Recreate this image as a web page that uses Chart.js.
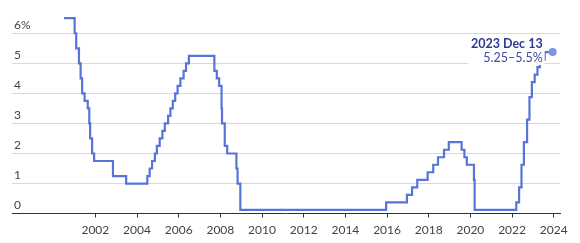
<!DOCTYPE html>
<html>
<head>
<meta charset="utf-8">
<script src="https://cdn.jsdelivr.net/npm/chart.js@4"></script>
<style>
  html, body { margin: 0; padding: 0; background: #fff; }
  #wrap { width: 580px; height: 243px; }
</style>
</head>
<body>
<div id="wrap"><canvas id="rateChart" width="580" height="243"></canvas></div>
<script>
// Fed funds target (midpoint of range after Dec 2008), by decision date
const dates = [
  '2000-07-01', '2001-01-03', '2001-01-31', '2001-03-20', '2001-04-18', '2001-05-15',
  '2001-06-27', '2001-08-21', '2001-09-17', '2001-10-02', '2001-11-06', '2001-12-11',
  '2002-11-06', '2003-06-25', '2004-06-30', '2004-08-10', '2004-09-21', '2004-11-10',
  '2004-12-14', '2005-02-02', '2005-03-22', '2005-05-03', '2005-06-30', '2005-08-09',
  '2005-09-20', '2005-11-01', '2005-12-13', '2006-01-31', '2006-03-28', '2006-05-10',
  '2006-06-29', '2007-09-18', '2007-10-31', '2007-12-11', '2008-01-22', '2008-01-30',
  '2008-03-18', '2008-04-30', '2008-10-08', '2008-10-29', '2008-12-16', '2015-12-16',
  '2016-12-14', '2017-03-15', '2017-06-14', '2017-12-13', '2018-03-21', '2018-06-13',
  '2018-09-26', '2018-12-19', '2019-07-31', '2019-09-18', '2019-10-30', '2020-03-03',
  '2020-03-15', '2022-03-16', '2022-05-04', '2022-06-15', '2022-07-27', '2022-09-21',
  '2022-11-02', '2022-12-14', '2023-02-01', '2023-03-22', '2023-05-03', '2023-07-26',
  '2023-12-13'
];
const rates = [
  6.5, 6.0, 5.5, 5.0, 4.5, 4.0,
  3.75, 3.5, 3.0, 2.5, 2.0, 1.75,
  1.25, 1.0, 1.25, 1.5, 1.75, 2.0,
  2.25, 2.5, 2.75, 3.0, 3.25, 3.5,
  3.75, 4.0, 4.25, 4.5, 4.75, 5.0,
  5.25, 4.75, 4.5, 4.25, 3.5, 3.0,
  2.25, 2.0, 1.5, 1.0, 0.125, 0.375,
  0.625, 0.875, 1.125, 1.375, 1.625, 1.875,
  2.125, 2.375, 2.125, 1.875, 1.625, 1.125,
  0.125, 0.375, 0.875, 1.625, 2.375, 3.125,
  3.875, 4.375, 4.625, 4.875, 5.125, 5.375,
  5.375
];
const yearTicks = [2002, 2004, 2006, 2008, 2010, 2012, 2014, 2016, 2018, 2020, 2022, 2024];
const rateTicks = [0, 1, 2, 3, 4, 5, 6];
const lastLabel = '2023 Dec 13';
const lastRange = '5.25–5.5%';

function toYear(s) {
  const d = new Date(s + 'T00:00:00Z');
  const start = Date.UTC(d.getUTCFullYear(), 0, 1);
  return d.getUTCFullYear() + (d - start) / (365.25 * 86400000);
}

const points = dates.map((d, i) => ({ x: toYear(d), y: rates[i] }));
const lastIdx = points.length - 1;
const font = { family: 'Lato, "Open Sans", sans-serif', size: 12 };

// label next to the last point, with a white box behind it
const endLabel = {
  id: 'endLabel',
  afterDatasetsDraw(chart) {
    const ctx = chart.ctx;
    const pt = chart.getDatasetMeta(0).data[lastIdx];
    const right = pt.x - 10;
    ctx.save();
    ctx.textAlign = 'right';
    ctx.textBaseline = 'alphabetic';
    ctx.font = 'bold 12.5px Lato, sans-serif';
    const w1 = ctx.measureText(lastLabel).width;
    ctx.font = '12.5px Lato, sans-serif';
    const w2 = ctx.measureText(lastRange).width;
    ctx.fillStyle = '#fff';
    ctx.fillRect(right - Math.max(w1, w2) - 3, pt.y - 15, Math.max(w1, w2) + 5, 28);
    ctx.fillStyle = '#2f3a8f';
    ctx.font = 'bold 12.5px Lato, sans-serif';
    ctx.fillText(lastLabel, right, pt.y - 4);
    ctx.fillStyle = '#3d4aa0';
    ctx.font = '12.5px Lato, sans-serif';
    ctx.fillText(lastRange, right, pt.y + 10);
    ctx.restore();
  }
};

new Chart(document.getElementById('rateChart').getContext('2d'), {
  type: 'line',
  data: {
    datasets: [{
      data: points,
      stepped: true,
      borderColor: '#5874d8',
      borderWidth: 2.2,
      pointRadius: points.map((p, i) => i === lastIdx ? 4 : 0),
      pointBackgroundColor: '#7d95e3',
      pointBorderWidth: 0,
      fill: false
    }]
  },
  options: {
    responsive: false,
    animation: false,
    layout: { padding: { left: 8, right: 20, top: 8, bottom: 1 } },
    plugins: { legend: { display: false }, tooltip: { enabled: false } },
    scales: {
      x: {
        type: 'linear',
        min: 1998.0,
        max: 2024.3,
        afterBuildTicks: axis => { axis.ticks = yearTicks.map(v => ({ value: v })); },
        grid: { drawOnChartArea: false, drawTicks: true, tickLength: 4, color: '#333' },
        border: { display: true, color: '#333', width: 1 },
        ticks: {
          font: font, color: '#444', padding: 5, maxRotation: 0,
          callback: v => String(v)
        }
      },
      y: {
        min: 0,
        max: 6.8,
        afterBuildTicks: axis => { axis.ticks = rateTicks.map(v => ({ value: v })); },
        grid: { drawTicks: false, color: ctx => ctx.tick && ctx.tick.value === 0 ? 'rgba(0,0,0,0)' : '#d9d9d9' },
        border: { display: false },
        ticks: {
          mirror: true, padding: 2, labelOffset: -8,
          font: font, color: '#444',
          callback: v => v === 6 ? '6%' : String(v)
        }
      }
    }
  },
  plugins: [endLabel]
});
</script>
</body>
</html>
